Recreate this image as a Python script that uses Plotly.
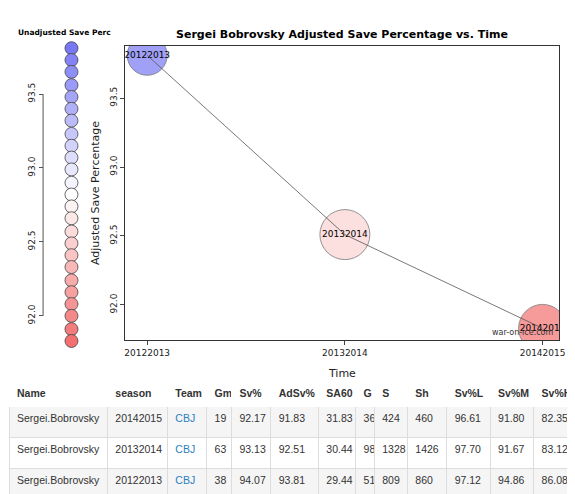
import plotly.graph_objects as go

seasons = ['20122013', '20132014', '20142015']
adj_sv = [93.81, 92.51, 91.83]
bubble_size = [40, 50, 48]

legend_vals = [93.81, 93.73, 93.65, 93.56, 93.48, 93.40, 93.32, 93.23, 93.15, 93.07,
               92.99, 92.90, 92.82, 92.74, 92.66, 92.57, 92.49, 92.41, 92.33, 92.24,
               92.16, 92.08, 92.00, 91.91, 91.83]

names = ['Sergei.Bobrovsky'] * 3
tab_season = ['20142015', '20132014', '20122013']
team = ['CBJ', 'CBJ', 'CBJ']
gm = [19, 63, 38]
sv = ['92.17', '93.13', '94.07']
adsv = ['91.83', '92.51', '93.81']
sa60 = ['31.83', '30.44', '29.44']
g = [36, 98, 51]
s = [424, 1328, 809]
sh = [460, 1426, 860]
sv_l = ['96.61', '97.70', '97.12']
sv_m = ['91.80', '91.67', '94.86']
sv_h = ['82.35', '83.12', '86.08']
headers = ['Name', 'season', 'Team', 'Gm', 'Sv%', 'AdSv%', 'SA60', 'G', 'S', 'Sh', 'Sv%L', 'Sv%M', 'Sv%H']

scale = [[0, 'rgb(242,112,112)'], [0.5, 'rgb(255,255,255)'], [1, 'rgb(120,120,245)']]
cmin, cmax = 91.83, 93.81

fig = go.Figure()

# main bubbles
fig.add_trace(go.Scatter(x=[0, 1, 2], y=adj_sv, mode='markers+text', text=seasons,
                         textfont=dict(size=9, color='black'),
                         marker=dict(size=bubble_size, color=adj_sv, colorscale=scale,
                                     cmin=cmin, cmax=cmax, line=dict(color='#444', width=0.8)),
                         showlegend=False))
fig.add_trace(go.Scatter(x=[0, 1, 2], y=adj_sv, mode='lines',
                         line=dict(color='#555', width=0.8), showlegend=False))

# colour legend
fig.add_trace(go.Scatter(x=[0] * len(legend_vals), y=legend_vals, mode='markers',
                         xaxis='x2', yaxis='y2',
                         marker=dict(size=13, color=legend_vals, colorscale=scale,
                                     cmin=cmin, cmax=cmax, line=dict(color='#444', width=0.8)),
                         showlegend=False))

cell_colors = ['#333'] * 13
cell_colors[2] = '#2a7fc1'
fig.add_trace(go.Table(
    domain=dict(x=[0.0, 1.0], y=[0, 0.25]),
    columnwidth=[95, 58, 38, 24, 38, 46, 36, 18, 32, 38, 42, 42, 42],
    header=dict(values=['<b>%s</b>' % h for h in headers], fill_color='white',
                line_color='white', align='left', height=28,
                font=dict(size=10.5, color='#333', family='Liberation Sans')),
    cells=dict(values=[names, tab_season, team, gm, sv, adsv, sa60, g, s, sh, sv_l, sv_m, sv_h],
               fill_color=[['#f5f5f5', 'white', '#f5f5f5']],
               line_color='#dddddd', align='left', height=31,
               font=dict(size=10.5, color=cell_colors, family='Liberation Sans'))))

fig.update_layout(
    width=575, height=494, margin=dict(l=0, r=0, t=0, b=0),
    paper_bgcolor='white', plot_bgcolor='white',
    font=dict(family='DejaVu Sans', size=9, color='#222'),
    xaxis=dict(domain=[0.205, 0.969], range=[-0.11, 2.085], tickvals=[0, 1, 2], ticktext=seasons,
               showline=True, mirror=True, linecolor='#333', ticks='outside', ticklen=4,
               showgrid=False, zeroline=False, anchor='y',
               title=dict(text='Time', standoff=12)),
    yaxis=dict(domain=[0.328, 0.923], range=[91.746, 93.877], tickvals=[92.0, 92.5, 93.0, 93.5],
               ticktext=['92.0', '92.5', '93.0', '93.5'], tickangle=-90,
               showline=True, mirror=True, linecolor='#333', ticks='outside', ticklen=4,
               showgrid=False, zeroline=False, anchor='x',
               title=dict(text='Adjusted Save Percentage', standoff=6)),
    xaxis2=dict(domain=[0.06, 0.14], range=[-1.0, 0.6], visible=False, anchor='y2'),
    yaxis2=dict(domain=[0.302, 0.939], range=[91.75, 93.878], tickvals=[92.0, 92.5, 93.0, 93.5],
                ticktext=['92.0', '92.5', '93.0', '93.5'], tickangle=-90,
                showline=False, ticks='outside', ticklen=4, tickcolor='#555',
                showgrid=False, zeroline=False, anchor='free', position=0.06),
)

# legend axis line only spans the tick range
fig.add_shape(type='line', xref='paper', yref='y2', x0=0.06, x1=0.06, y0=92.0, y1=93.5,
              line=dict(color='#555', width=1))

fig.add_annotation(text='<b>Sergei Bobrovsky Adjusted Save Percentage vs. Time</b>',
                   xref='paper', yref='paper', x=0.587, y=1 - 18 / 494, showarrow=False,
                   font=dict(size=11, color='black'))
fig.add_annotation(text='<b>Unadjusted Save Perc</b>', xref='paper', yref='paper',
                   x=0.012, y=1 - 18 / 494, xanchor='left', showarrow=False,
                   font=dict(size=7.5, color='black'))
fig.add_annotation(text='war-on-ice.com', xref='paper', yref='paper',
                   x=0.962, y=1 - 324 / 494, xanchor='right', showarrow=False,
                   font=dict(size=8, color='#333'))

fig.write_html('out.html')
